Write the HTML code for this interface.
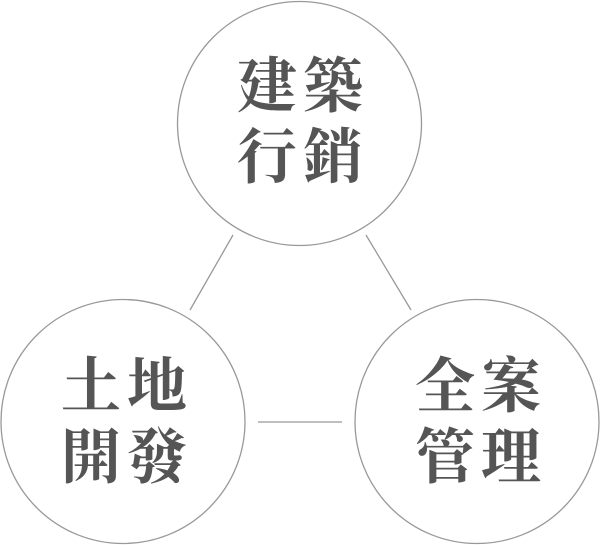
<!DOCTYPE html>
<html><head><meta charset="utf-8"><style>
html,body{margin:0;padding:0;background:#fff;}
svg{display:block}
text{font-family:"Liberation Serif","Noto Serif CJK SC",serif;font-weight:bold;fill:#555;font-size:60px;text-anchor:middle;letter-spacing:6px;}
</style></head><body>
<svg width="600" height="545" viewBox="0 0 600 545">
<g fill="none" stroke="#999" stroke-width="1.3">
<circle cx="299.5" cy="123.5" r="122"/>
<circle cx="123" cy="421.5" r="122"/>
<circle cx="477" cy="421.5" r="122"/>
<line x1="233" y1="235" x2="190" y2="310"/>
<line x1="366" y1="235" x2="411" y2="310"/>
<line x1="258" y1="422" x2="342" y2="422"/>
</g>
<text x="303" y="107">建築</text>
<text x="303" y="178">行銷</text>
<text x="127" y="407">土地</text>
<text x="127" y="478">開發</text>
<text x="481" y="407">全案</text>
<text x="481" y="478">管理</text>
</svg>
</body></html>
